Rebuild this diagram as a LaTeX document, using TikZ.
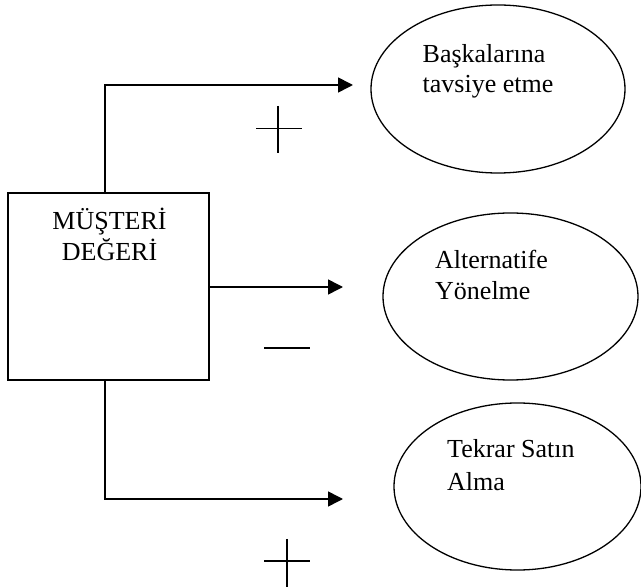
\documentclass[tikz,border=0pt]{standalone}
\usepackage{fontspec}
\setmainfont{Liberation Serif}
\usetikzlibrary{arrows.meta,shapes.geometric}

\tikzset{
  valuebox/.style={draw, line width=1.6pt, minimum width=201pt, minimum height=187pt, inner sep=0pt},
  outcome/.style={draw, ellipse, line width=1.3pt, inner sep=0pt},
  caption/.style={anchor=base west, inner sep=0pt, font=\fontsize{26}{31}\selectfont},
  boxcaption/.style={anchor=base, inner sep=0pt, font=\fontsize{26}{31}\selectfont},
  flow/.style={line width=1.6pt, -{Triangle[length=15pt,width=15pt]}},
  signline/.style={line width=1.4pt}
}

\begin{document}
\begin{tikzpicture}[x=1pt,y=-1pt]
  \useasboundingbox (0,0) rectangle (641,588);

  % central box
  \node[valuebox] (box) at (108.5,286.5) {};
  \node[boxcaption] (boxl1) at (109.5,230) {MÜŞTERİ};
  \node[boxcaption] (boxl2) at (109.5,261) {DEĞERİ};

  % outcome ellipses
  \node[outcome, minimum width=254pt, minimum height=168pt] (e1) at (498,89) {};
  \node[outcome, minimum width=255pt, minimum height=167pt] (e2) at (510.5,296.5) {};
  \node[outcome, minimum width=247pt, minimum height=167pt] (e3) at (517.5,486.5) {};

  \node[caption] (e1a) at (422.5,62.5) {Başkalarına};
  \node[caption] (e1b) at (422.5,93) {tavsiye etme};
  \node[caption] (e2a) at (435,269) {Alternatife};
  \node[caption] (e2b) at (435,300) {Yönelme};
  \node[caption] (e3a) at (447,458) {Tekrar Satın};
  \node[caption] (e3b) at (447,491) {Alma};

  % arrow ends in front of the ellipses
  \coordinate (t1) at (353,85);
  \coordinate (t2) at (343,287);
  \coordinate (t3) at (343,499);

  % connectors
  \draw[flow] ([xshift=-3.5pt]box.north) |- (t1);
  \draw[flow] (box.east |- t2) -- (t2);
  \draw[flow] ([xshift=-3.5pt]box.south) |- (t3);

  % signs on the links
  \draw[signline] (256,128.3) -- (302,128.3) (278,106) -- (278,153);
  \draw[signline] (264,348) -- (310,348);
  \draw[signline] (264,561) -- (310,561) (287,539) -- (287,587);
\end{tikzpicture}
\end{document}
